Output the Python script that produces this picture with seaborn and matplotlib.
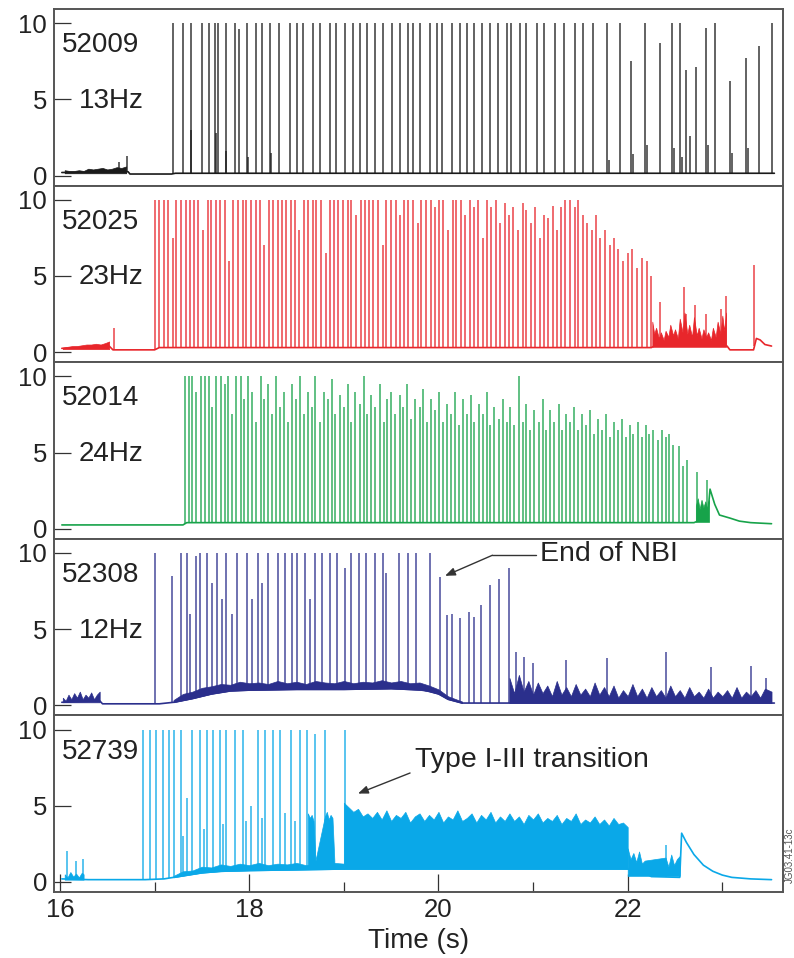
import matplotlib
matplotlib.use("Agg")
import matplotlib.pyplot as plt
import numpy as np
import pandas as pd
import seaborn as sns

sns.set_theme(style="white")
plt.rcParams["font.family"] = ["Liberation Sans", "DejaVu Sans"]

# ---------------------------------------------------------------- data
shots = ["52009", "52025", "52014", "52308", "52739"]
freqs = ["13Hz", "23Hz", "24Hz", "12Hz", ""]
colors = ["#1a1a1a", "#e8262b", "#17a34a", "#2b2f8c", "#0aa8e8"]

# --- 52009
base_t_52009 = [16.02, 16.72, 16.74, 17.18, 17.22, 23.55]
base_v_52009 = [0.20, 0.25, 0.10, 0.10, 0.15, 0.15]
grass_t_52009 = [16.05, 16.10, 16.15, 16.20, 16.25, 16.30, 16.35, 16.40, 16.45, 16.50, 16.55, 16.60, 16.65, 16.70]
grass_v_52009 = [0.35, 0.30, 0.30, 0.35, 0.30, 0.45, 0.40, 0.45, 0.50, 0.40, 0.45, 0.55, 0.50, 0.60]
elm_52009 = [(16.62, 0.9), (16.71, 1.3),
             (17.19, 10), (17.30, 10), (17.38, 10), (17.50, 10), (17.57, 10), (17.64, 10), (17.67, 10),
             (17.75, 10), (17.85, 10), (17.89, 9.6), (17.98, 10), (18.07, 10), (18.13, 10), (18.22, 10),
             (18.32, 10), (18.43, 10), (18.50, 10), (18.57, 10), (18.67, 10), (18.75, 10), (18.85, 10),
             (18.92, 10), (19.01, 10), (19.10, 10), (19.17, 10), (19.25, 10), (19.33, 10), (19.41, 10),
             (19.51, 10), (19.59, 10), (19.68, 10), (19.73, 10), (19.80, 10), (19.91, 10), (19.98, 10),
             (20.04, 10), (20.14, 10), (20.23, 10), (20.30, 10), (20.38, 10), (20.46, 10), (20.54, 10),
             (20.63, 10), (20.72, 10), (20.77, 10), (20.86, 10), (20.93, 10), (21.04, 10), (21.12, 10),
             (21.23, 10), (21.33, 10), (21.44, 10), (21.53, 10), (21.63, 10), (21.78, 10), (21.92, 10),
             (22.04, 7.5), (22.18, 10), (22.34, 8.7), (22.47, 10), (22.55, 10), (22.62, 6.9), (22.72, 7.1),
             (22.83, 9.7), (22.92, 10), (23.08, 6.2), (23.25, 7.7), (23.39, 8.5), (23.52, 10)]
minor_52009 = [(17.39, 3.0), (17.65, 2.8), (17.76, 1.6), (17.99, 1.2), (18.23, 1.5), (21.80, 1.0),
               (22.06, 1.4), (22.20, 2.0), (22.49, 1.8), (22.57, 1.2), (22.66, 2.6), (22.85, 2.0),
               (23.10, 1.5), (23.27, 1.8)]

# --- 52025
base_t_52025 = [16.02, 16.52, 16.56, 17.00, 17.05, 22.25, 22.28, 23.05, 23.08, 23.33, 23.36, 23.40, 23.45, 23.52]
base_v_52025 = [0.25, 0.40, 0.15, 0.15, 0.30, 0.30, 0.40, 0.40, 0.15, 0.15, 0.90, 0.80, 0.50, 0.40]
grass_t_52025 = [16.03, 16.08, 16.13, 16.18, 16.23, 16.28, 16.33, 16.38, 16.43, 16.48, 16.52]
grass_v_52025 = [0.30, 0.35, 0.40, 0.40, 0.45, 0.50, 0.50, 0.55, 0.50, 0.60, 0.70]
grass2_t_52025 = [22.26, 22.28, 22.30, 22.33, 22.35, 22.38, 22.40, 22.43, 22.45, 22.48, 22.50, 22.53, 22.55,
                  22.58, 22.60, 22.63, 22.65, 22.68, 22.70, 22.73, 22.75, 22.78, 22.80, 22.83, 22.85, 22.88,
                  22.90, 22.93, 22.95, 22.98, 23.00, 23.02, 23.04]
grass2_v_52025 = [2.0, 1.2, 1.6, 0.9, 1.3, 0.8, 1.4, 1.0, 1.8, 1.1, 1.5, 0.9, 2.2, 1.3, 2.6, 1.2, 1.8, 1.0,
                  2.3, 1.1, 1.6, 0.9, 1.5, 1.0, 1.3, 0.8, 1.6, 1.0, 2.0, 1.2, 2.4, 1.4, 2.6]
elm_52025 = [(16.57, 1.6),
             (17.00, 10), (17.05, 10), (17.10, 10), (17.14, 10), (17.19, 7.5), (17.23, 10), (17.28, 10),
             (17.33, 10), (17.37, 10), (17.42, 10), (17.46, 10), (17.51, 8.0), (17.56, 10), (17.60, 10),
             (17.65, 10), (17.69, 10), (17.74, 10), (17.79, 6.0), (17.83, 10), (17.88, 10), (17.93, 10),
             (17.97, 10), (18.02, 10), (18.07, 10), (18.11, 10), (18.16, 7.0), (18.21, 10), (18.25, 10),
             (18.30, 10), (18.35, 10), (18.39, 10), (18.44, 10), (18.48, 10), (18.53, 8.0), (18.58, 10),
             (18.62, 10), (18.67, 10), (18.71, 10), (18.76, 10), (18.81, 6.5), (18.85, 10), (18.90, 10),
             (18.94, 10), (18.99, 10), (19.04, 10), (19.08, 10), (19.13, 9.0), (19.18, 10), (19.22, 10),
             (19.27, 10), (19.31, 10), (19.36, 10), (19.41, 7.0), (19.45, 10), (19.50, 10), (19.55, 10),
             (19.59, 9.0), (19.64, 10), (19.68, 10), (19.73, 10), (19.78, 8.5), (19.82, 10), (19.87, 10),
             (19.92, 10), (19.96, 9.5), (20.01, 10), (20.05, 10), (20.10, 8.0), (20.15, 10), (20.19, 10),
             (20.24, 10), (20.28, 9.0), (20.33, 10), (20.38, 9.5), (20.42, 10), (20.47, 7.5), (20.51, 10),
             (20.56, 9.5), (20.61, 10), (20.65, 8.5), (20.70, 9.8), (20.75, 9.0), (20.79, 9.5), (20.84, 8.0),
             (20.89, 9.8), (20.93, 9.3), (20.98, 8.5), (21.02, 9.5), (21.07, 7.5), (21.12, 9.0), (21.16, 8.8),
             (21.21, 9.6), (21.25, 8.0), (21.30, 9.5), (21.34, 10), (21.39, 10), (21.44, 9.5), (21.48, 10),
             (21.53, 9.0), (21.57, 8.5), (21.62, 8.0), (21.67, 9.0), (21.71, 7.5), (21.76, 8.0), (21.81, 7.0),
             (21.85, 7.5), (21.90, 6.8), (21.95, 6.0), (22.00, 6.5), (22.05, 6.8), (22.10, 5.5), (22.15, 6.2),
             (22.20, 6.0), (22.25, 5.0),
             (22.34, 3.3), (22.59, 4.3), (22.62, 2.5), (22.71, 3.1), (22.83, 2.5), (22.99, 2.8), (23.04, 3.7),
             (23.34, 5.7)]

# --- 52014
base_t_52014 = [16.02, 17.30, 17.34, 22.70, 22.74, 22.85, 22.87, 22.92, 22.97, 23.08, 23.18, 23.30, 23.52]
base_v_52014 = [0.25, 0.25, 0.40, 0.40, 0.50, 1.20, 2.60, 1.60, 0.90, 0.70, 0.50, 0.40, 0.33]
grass_t_52014 = [22.72, 22.74, 22.76, 22.78, 22.80, 22.82, 22.84, 22.86]
grass_v_52014 = [1.5, 2.0, 1.3, 1.9, 1.4, 1.8, 1.3, 1.9]
elm_52014 = [(17.32, 10), (17.36, 10), (17.40, 10), (17.44, 9.0), (17.49, 10), (17.53, 10), (17.57, 10),
             (17.61, 8.0), (17.65, 10), (17.70, 10), (17.74, 9.5), (17.78, 10), (17.82, 7.5), (17.86, 10),
             (17.91, 10), (17.95, 8.5), (17.99, 10), (18.03, 9.0), (18.07, 7.0), (18.12, 10), (18.16, 8.5),
             (18.20, 9.5), (18.24, 7.5), (18.28, 10), (18.33, 8.0), (18.37, 9.0), (18.41, 7.0), (18.45, 9.5),
             (18.49, 8.5), (18.54, 10), (18.58, 7.5), (18.62, 9.0), (18.66, 8.0), (18.70, 10), (18.75, 7.0),
             (18.79, 9.0), (18.83, 8.5), (18.87, 9.8), (18.91, 7.5), (18.96, 8.8), (19.00, 8.0), (19.04, 9.5),
             (19.08, 7.0), (19.12, 9.0), (19.17, 8.2), (19.21, 10), (19.25, 7.5), (19.29, 8.8), (19.33, 8.0),
             (19.38, 9.5), (19.42, 7.0), (19.46, 8.5), (19.50, 9.0), (19.54, 7.5), (19.59, 8.8), (19.63, 8.0),
             (19.67, 9.5), (19.71, 7.2), (19.75, 8.5), (19.80, 8.0), (19.84, 9.2), (19.88, 7.0), (19.92, 8.5),
             (19.96, 7.8), (20.01, 9.0), (20.05, 7.0), (20.09, 8.2), (20.13, 7.5), (20.17, 9.0), (20.22, 6.8),
             (20.26, 8.5), (20.30, 7.5), (20.34, 8.8), (20.38, 7.0), (20.43, 8.2), (20.47, 7.5), (20.51, 9.0),
             (20.55, 6.8), (20.59, 8.0), (20.64, 7.2), (20.68, 8.5), (20.72, 7.0), (20.76, 8.0), (20.80, 6.8),
             (20.85, 10), (20.89, 7.0), (20.93, 8.2), (20.97, 6.5), (21.01, 7.8), (21.06, 7.0), (21.10, 8.5),
             (21.14, 6.5), (21.18, 7.8), (21.22, 7.0), (21.27, 8.2), (21.31, 6.5), (21.35, 7.5), (21.39, 7.0),
             (21.43, 8.0), (21.48, 6.5), (21.52, 7.5), (21.56, 6.8), (21.60, 7.8), (21.64, 6.2), (21.69, 7.2),
             (21.73, 6.5), (21.77, 7.5), (21.81, 6.0), (21.85, 7.0), (21.90, 6.5), (21.94, 7.2), (21.98, 6.0),
             (22.02, 6.8), (22.06, 6.2), (22.11, 7.0), (22.15, 6.0), (22.19, 6.8), (22.23, 6.2), (22.27, 6.5),
             (22.32, 5.8), (22.36, 6.5), (22.40, 6.0), (22.44, 6.2), (22.48, 5.5), (22.54, 5.4), (22.58, 4.1),
             (22.63, 4.5), (22.73, 3.7), (22.84, 3.2)]

# --- 52308
base_t_52308 = [16.02, 16.42, 16.45, 17.05, 17.20, 17.40, 17.60, 17.80, 18.00, 18.50, 19.00, 19.50, 19.85, 20.00, 20.10, 20.25, 23.55]
base_v_52308 = [0.20, 0.30, 0.10, 0.10, 0.20, 0.45, 0.75, 0.95, 1.00, 1.05, 1.05, 1.10, 1.00, 0.75, 0.40, 0.15, 0.15]
grass_t_52308 = [16.03, 16.06, 16.09, 16.12, 16.15, 16.18, 16.21, 16.24, 16.27, 16.30, 16.33, 16.36, 16.39, 16.42]
grass_v_52308 = [0.50, 0.30, 0.70, 0.40, 0.80, 0.50, 0.90, 0.40, 0.70, 0.50, 0.85, 0.40, 0.70, 0.90]
nbi_t_52308 = [17.20, 17.30, 17.40, 17.50, 17.60, 17.70, 17.80, 17.90, 18.00, 18.10, 18.20, 18.30, 18.40, 18.50,
               18.60, 18.70, 18.80, 18.90, 19.00, 19.10, 19.20, 19.30, 19.40, 19.50, 19.60, 19.70, 19.80,
               19.90, 20.00, 20.10, 20.25]
nbi_v_52308 = [0.35, 0.75, 0.90, 1.15, 1.25, 1.40, 1.35, 1.55, 1.45, 1.50, 1.40, 1.60, 1.45, 1.55, 1.40,
               1.60, 1.50, 1.45, 1.60, 1.45, 1.55, 1.50, 1.65, 1.50, 1.60, 1.45, 1.50, 1.30, 1.05, 0.60, 0.25]
post_t_52308 = [20.75, 20.80, 20.85, 20.90, 20.95, 21.00, 21.05, 21.10, 21.15, 21.20, 21.25, 21.30, 21.35,
                21.40, 21.45, 21.50, 21.55, 21.60, 21.65, 21.70, 21.75, 21.80, 21.85, 21.90, 21.95, 22.00,
                22.05, 22.10, 22.15, 22.20, 22.25, 22.30, 22.35, 22.40, 22.45, 22.50, 22.55, 22.60, 22.65,
                22.70, 22.75, 22.80, 22.85, 22.90, 22.95, 23.00, 23.05, 23.10, 23.15, 23.20, 23.25, 23.30,
                23.35, 23.40, 23.45, 23.52]
post_v_52308 = [1.8, 0.8, 2.0, 0.9, 1.6, 0.7, 1.5, 0.8, 1.3, 0.6, 1.6, 0.7, 1.2, 0.6, 1.4, 0.7, 1.1, 0.6,
                1.5, 0.7, 1.2, 0.6, 1.3, 0.5, 1.0, 0.6, 1.4, 0.6, 1.1, 0.5, 1.2, 0.6, 1.0, 0.5, 1.3, 0.6,
                1.0, 0.5, 1.2, 0.6, 0.9, 0.5, 1.1, 0.5, 0.9, 0.6, 1.0, 0.5, 1.2, 0.5, 0.9, 0.6, 1.0, 0.5,
                1.1, 0.9]
elm_52308 = [(17.00, 10), (17.18, 8.5), (17.28, 10), (17.34, 10), (17.37, 6.0), (17.44, 9.8), (17.48, 10),
             (17.55, 10), (17.61, 8.0), (17.66, 10), (17.71, 7.0), (17.76, 10), (17.82, 6.0), (17.87, 10),
             (17.98, 10), (18.03, 7.0), (18.09, 10), (18.13, 8.0), (18.20, 10), (18.30, 10), (18.38, 10),
             (18.45, 10), (18.51, 10), (18.59, 10), (18.64, 7.0), (18.70, 10), (18.77, 10), (18.85, 10),
             (18.93, 10), (19.01, 9.0), (19.08, 10), (19.16, 10), (19.23, 10), (19.33, 10), (19.41, 10),
             (19.45, 8.7), (19.58, 10), (19.68, 10), (19.76, 10), (19.91, 10), (20.02, 8.4), (20.09, 5.9),
             (20.14, 6.0), (20.23, 5.7), (20.32, 6.1), (20.38, 5.8), (20.45, 6.6), (20.54, 7.9), (20.64, 8.3),
             (20.75, 9.0), (20.82, 3.5), (20.90, 3.2), (21.00, 2.8), (21.35, 3.0), (21.78, 3.1), (22.40, 3.5),
             (22.88, 2.5), (23.30, 2.6), (23.46, 1.8)]

# --- 52739
base_t_52739 = [16.02, 16.30, 16.90, 17.10, 17.30, 17.50, 17.70, 18.00, 18.50, 19.00, 22.00, 22.18, 22.25, 22.55,
                22.57, 22.62, 22.70, 22.80, 22.90, 23.00, 23.10, 23.30, 23.52]
base_v_52739 = [0.20, 0.15, 0.15, 0.20, 0.40, 0.60, 0.70, 0.75, 0.80, 0.85, 0.85, 0.60, 0.35, 0.30,
                3.20, 2.60, 1.80, 1.10, 0.70, 0.45, 0.30, 0.20, 0.15]
grass_t_52739 = [16.05, 16.08, 16.11, 16.14, 16.17, 16.20, 16.23, 16.25]
grass_v_52739 = [0.50, 0.30, 0.65, 0.35, 0.55, 0.30, 0.60, 0.50]
hmode_t_52739 = [17.20, 17.30, 17.40, 17.50, 17.60, 17.70, 17.80, 17.90, 18.00, 18.10, 18.20, 18.30, 18.40,
                 18.50, 18.60, 18.70, 18.80, 18.90, 19.00]
hmode_v_52739 = [0.40, 0.70, 0.75, 1.00, 0.95, 1.15, 1.05, 1.20, 1.10, 1.25, 1.10, 1.20, 1.15, 1.25, 1.10,
                 1.20, 1.15, 1.25, 1.20]
burst_t_52739 = [18.62, 18.64, 18.66, 18.68, 18.70, 18.80, 18.82, 18.84, 18.86, 18.88, 18.90]
burst_v_52739 = [4.5, 4.2, 4.4, 4.0, 1.4, 4.3, 4.6, 4.1, 4.4, 4.2, 1.4]
type3_t_52739 = [19.00, 19.05, 19.10, 19.15, 19.20, 19.25, 19.30, 19.35, 19.40, 19.45, 19.50, 19.55, 19.60,
                 19.65, 19.70, 19.75, 19.80, 19.85, 19.90, 19.95, 20.00, 20.05, 20.10, 20.15, 20.20, 20.25,
                 20.30, 20.35, 20.40, 20.45, 20.50, 20.55, 20.60, 20.65, 20.70, 20.75, 20.80, 20.85, 20.90,
                 20.95, 21.00, 21.05, 21.10, 21.15, 21.20, 21.25, 21.30, 21.35, 21.40, 21.45, 21.50, 21.55,
                 21.60, 21.65, 21.70, 21.75, 21.80, 21.85, 21.90, 21.95, 22.00]
type3_v_52739 = [5.2, 4.9, 4.6, 4.8, 4.3, 4.5, 4.2, 4.6, 4.1, 4.7, 4.0, 4.4, 4.2, 4.6, 3.9, 4.3, 4.5, 4.0,
                 4.4, 4.1, 4.6, 3.9, 4.3, 4.1, 4.7, 4.0, 4.2, 4.5, 3.9, 4.4, 4.1, 4.6, 3.9, 4.3, 4.0, 4.5,
                 4.0, 4.3, 3.8, 4.4, 4.1, 4.5, 3.9, 4.2, 4.0, 4.4, 3.8, 4.2, 4.0, 4.5, 3.8, 4.1, 3.9, 4.3,
                 3.8, 4.1, 3.7, 4.2, 3.8, 3.9, 3.6]
tail_t_52739 = [22.00, 22.03, 22.06, 22.09, 22.12, 22.15, 22.18, 22.40, 22.43, 22.46, 22.49, 22.52, 22.55]
tail_v_52739 = [2.2, 1.5, 1.9, 1.3, 2.0, 1.2, 1.4, 1.6, 1.0, 1.8, 1.1, 1.5, 1.7]
elm_52739 = [(16.07, 2.0), (16.17, 1.4), (16.24, 1.5),
             (16.88, 10), (16.95, 10), (17.02, 10), (17.09, 10), (17.15, 10), (17.21, 10), (17.28, 10),
             (17.34, 5.5), (17.40, 10), (17.48, 10), (17.55, 10), (17.62, 10), (17.69, 10), (17.75, 10),
             (17.85, 10), (17.93, 10), (18.02, 5.0), (18.09, 10), (18.17, 10), (18.25, 10), (18.33, 10),
             (18.44, 10), (18.54, 10), (18.61, 10), (18.70, 9.7), (18.80, 10), (19.01, 10),
             (17.30, 3.0), (17.52, 3.5), (17.72, 3.8), (17.97, 4.0), (18.13, 4.2), (18.38, 4.5), (18.48, 4.0),
             (22.40, 2.4)]

panels = {
    "52009": dict(base=(base_t_52009, base_v_52009), elms=elm_52009 + minor_52009,
                  fills=[(grass_t_52009, 0.15, grass_v_52009)]),
    "52025": dict(base=(base_t_52025, base_v_52025), elms=elm_52025,
                  fills=[(grass_t_52025, 0.2, grass_v_52025), (grass2_t_52025, 0.35, grass2_v_52025)]),
    "52014": dict(base=(base_t_52014, base_v_52014), elms=elm_52014,
                  fills=[(grass_t_52014, 0.45, grass_v_52014)]),
    "52308": dict(base=(base_t_52308, base_v_52308), elms=elm_52308,
                  fills=[(grass_t_52308, 0.2, grass_v_52308), (nbi_t_52308, None, nbi_v_52308),
                         (post_t_52308, 0.15, post_v_52308)]),
    "52739": dict(base=(base_t_52739, base_v_52739), elms=elm_52739,
                  fills=[(grass_t_52739, 0.15, grass_v_52739), (hmode_t_52739, None, hmode_v_52739),
                         (burst_t_52739, 0.9, burst_v_52739), (type3_t_52739, 0.85, type3_v_52739),
                         (tail_t_52739, 0.4, tail_v_52739)]),
}

# ---------------------------------------------------------------- figure
fig, axes = plt.subplots(5, 1, figsize=(7.94, 9.58), dpi=100, sharex=True,
                         gridspec_kw={"hspace": 0})
fig.subplots_adjust(left=0.068, right=0.986, top=0.9906, bottom=0.0689)

spine_col = "#555555"
text_col = "#222222"

for ax, shot, freq, col in zip(axes, shots, freqs, colors):
    d = panels[shot]
    bt, bv = d["base"]
    base_df = pd.DataFrame({"t": bt, "v": bv})
    for ft, lo, hi in d["fills"]:
        lo_arr = np.interp(ft, bt, bv) if lo is None else lo
        ax.fill_between(ft, lo_arr, hi, color=col, lw=0.5, edgecolor=col)
    sns.lineplot(data=base_df, x="t", y="v", ax=ax, color=col, lw=1.2,
                 estimator=None, sort=False)
    et, eh = zip(*d["elms"])
    ax.vlines(et, np.interp(et, bt, bv), eh, color=col, lw=1.2, alpha=0.8)

    ax.set_xlim(15.937, 23.64)
    ax.set_ylim(-0.66, 10.93)
    ax.set_yticks([0, 5, 10])
    ax.set_ylabel("")
    ax.set_xlabel("")
    ax.tick_params(axis="y", direction="in", length=12, width=0.9, color="#333333",
                   labelsize=18.5, labelcolor=text_col, pad=5, left=True)
    for s in ax.spines.values():
        s.set_color(spine_col)
        s.set_linewidth(1.4)
        s.set_visible(True)

    ax.text(16.02, 8.55, shot, fontsize=20, color=text_col, va="center", ha="left")
    if freq:
        ax.text(16.2, 4.9, freq, fontsize=20, color=text_col, va="center", ha="left")

for ax in axes[:-1]:
    ax.tick_params(axis="x", bottom=False, labelbottom=False)

bottom = axes[-1]
bottom.set_xticks([16, 18, 20, 22])
bottom.set_xticks([17, 19, 21, 23], minor=True)
bottom.tick_params(axis="x", which="major", direction="in", length=13, width=0.9, color="#333333",
                   labelsize=18.5, labelcolor=text_col, pad=4, bottom=True)
bottom.tick_params(axis="x", which="minor", direction="in", length=7, width=0.9, color="#333333",
                   bottom=True)
bottom.set_xlabel("Time (s)", fontsize=20, color=text_col, labelpad=5)

# annotations
ax4 = axes[3]
ax4.plot([20.57, 21.03], [9.85, 9.85], color="#333333", lw=1.0)
ax4.annotate("", xy=(20.07, 8.5), xytext=(20.57, 9.85),
             arrowprops=dict(arrowstyle="-|>,head_length=0.5,head_width=0.2", color="#333333", lw=1.0,
                             shrinkA=0, shrinkB=0))
ax4.text(21.07, 9.9, "End of NBI", fontsize=20.5, color=text_col, va="center", ha="left")

ax5 = axes[4]
ax5.annotate("", xy=(19.15, 5.8), xytext=(19.70, 7.15),
             arrowprops=dict(arrowstyle="-|>,head_length=0.5,head_width=0.2", color="#333333", lw=1.0,
                             shrinkA=0, shrinkB=0))
ax5.text(19.75, 8.0, "Type I-III transition", fontsize=20.5, color=text_col, va="center", ha="left")

fig.text(0.9885, 0.107, "JG03.41-13c", rotation=90, fontsize=7, color="#555555",
         ha="left", va="center")

fig.savefig("out.png", dpi=100)
